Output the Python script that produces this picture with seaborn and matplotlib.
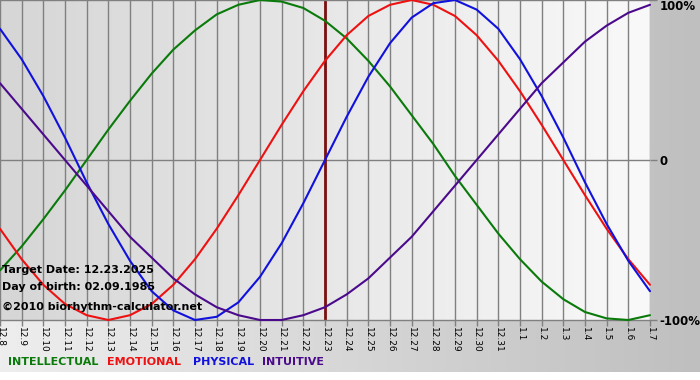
import numpy as np
import matplotlib
matplotlib.use("Agg")
import matplotlib.pyplot as plt
import seaborn as sns
import pandas as pd

# ---- data (one value per day) ----
dates = ["12.8", "12.9", "12.10", "12.11", "12.12", "12.13", "12.14", "12.15",
         "12.16", "12.17", "12.18", "12.19", "12.20", "12.21", "12.22", "12.23",
         "12.24", "12.25", "12.26", "12.27", "12.28", "12.29", "12.30", "12.31",
         "1.1", "1.2", "1.3", "1.4", "1.5", "1.6", "1.7"]

intellectual = [-0.69, -0.54, -0.37, -0.19, 0.00, 0.19, 0.37, 0.54, 0.69, 0.81,
                0.91, 0.97, 1.00, 0.99, 0.95, 0.87, 0.76, 0.62, 0.46, 0.28,
                0.10, -0.10, -0.28, -0.46, -0.62, -0.76, -0.87, -0.95, -0.99,
                -1.00, -0.97]
emotional = [-0.43, -0.62, -0.78, -0.90, -0.97, -1.00, -0.97, -0.90, -0.78,
             -0.62, -0.43, -0.22, 0.00, 0.22, 0.43, 0.62, 0.78, 0.90, 0.97,
             1.00, 0.97, 0.90, 0.78, 0.62, 0.43, 0.22, 0.00, -0.22, -0.43,
             -0.62, -0.78]
physical = [0.82, 0.63, 0.40, 0.14, -0.14, -0.40, -0.63, -0.82, -0.94, -1.00,
            -0.98, -0.89, -0.73, -0.52, -0.27, 0.00, 0.27, 0.52, 0.73, 0.89,
            0.98, 1.00, 0.94, 0.82, 0.63, 0.40, 0.14, -0.14, -0.40, -0.63,
            -0.82]
intuitive = [0.48, 0.32, 0.16, 0.00, -0.16, -0.32, -0.48, -0.61, -0.74, -0.84,
             -0.92, -0.97, -1.00, -1.00, -0.97, -0.92, -0.84, -0.74, -0.61,
             -0.48, -0.32, -0.16, 0.00, 0.16, 0.32, 0.48, 0.61, 0.74, 0.84,
             0.92, 0.97]

series_names = ["INTELLECTUAL", "EMOTIONAL", "PHYSICAL", "INTUITIVE"]
series_values = [intellectual, emotional, physical, intuitive]
series_colors = ["#0a7a0a", "#ee1111", "#1111dd", "#4b0a8c"]

target_label = "12.23"
info_lines = ["Target Date: 12.23.2025", "Day of birth: 02.09.1985",
              "©2010 biorhythm-calculator.net"]
ytick_vals = [-1, 0, 1]
ytick_labels = ["-100%", "0", "100%"]

# ---- figure ----
sns.set_theme(style="white")
plt.rcParams['font.family'] = ['DejaVu Sans']

W, H = 700, 380
fig = plt.figure(figsize=(W / 100, H / 100), dpi=100)
fig.patch.set_facecolor("white")


def hgrad(a, b):
    g = np.linspace(a, b, 256) / 255.0
    return np.repeat(np.stack([g, g, g], axis=-1)[None, :, :], 2, axis=0)


# background gradient (whole chart area, above the white bottom strip)
bg = fig.add_axes([0, 8 / H, 1, 1 - 8 / H])
bg.imshow(hgrad(0xee, 0xbf), aspect="auto", extent=[0, 1, 0, 1])
bg.set_axis_off()

ax = fig.add_axes([0, 60 / H, 650 / W, 320 / H])
ax.set_zorder(2)

days = np.arange(len(dates))
df = pd.DataFrame({"day": np.tile(days, 4),
                   "value": np.concatenate(series_values),
                   "kind": np.repeat(series_names, len(dates))})

# plot area gradient
ax.imshow(hgrad(0xd6, 0xf9), aspect="auto",
          extent=[0, len(dates) - 1, -1, 1], zorder=0)

for d in days:
    ax.axvline(d, color="#808080", lw=1, zorder=1)
ax.axhline(0, color="#808080", lw=1, zorder=1)
ax.axvline(dates.index(target_label), color="#7a1010", lw=2, zorder=1.5)

for name, col in zip(series_names, series_colors):
    sns.lineplot(data=df[df["kind"] == name], x="day", y="value", color=col,
                 lw=1.5, ax=ax, zorder=3, clip_on=False, legend=False)

ax.set_xlim(0, len(dates) - 1)
ax.set_ylim(-1, 1)
ax.set_xlabel("")
ax.set_ylabel("")
ax.set_xticks(days)
ax.set_xticklabels(dates, rotation=-90, fontsize=6.5, color="black")
ax.yaxis.tick_right()
ax.set_yticks(ytick_vals)
ax.set_yticklabels(ytick_labels, fontsize=8.5, fontweight="bold", color="black")
for lbl in ax.get_yticklabels():
    if lbl.get_text() == "100%":
        lbl.set_va("top")
ax.tick_params(axis="x", bottom=True, length=4, width=1, color="#808080", pad=1)
ax.tick_params(axis="y", right=True, left=False, length=5, width=1,
               color="#808080", pad=2)
for s in ["top", "bottom"]:
    ax.spines[s].set_color("#808080")
    ax.spines[s].set_linewidth(1)
ax.spines["left"].set_visible(False)
ax.spines["right"].set_visible(False)

# info text in plot
for t, y in zip(info_lines, [270, 287, 307]):
    ax.text(2 / 650, (320 - y) / 320, t,
            transform=ax.transAxes, fontsize=8, fontweight="bold",
            color="black", va="center", ha="left", zorder=4)

# legend row
xs = [8, 107, 193, 262]
for x, name, col in zip(xs, series_names, series_colors):
    fig.text(x / W, 1 - 362 / H, name, color=col, fontsize=8,
             fontweight="bold", va="center", ha="left")

fig.savefig("out.png", dpi=100)
